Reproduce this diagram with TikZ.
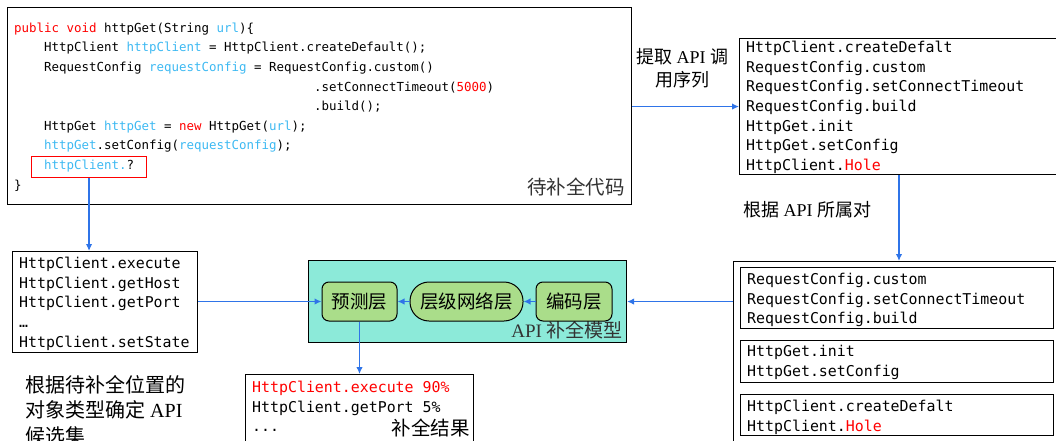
\documentclass[tikz,border=0pt]{standalone}
\usepackage{fontspec}
\setmainfont{Liberation Serif}
\setmonofont{DejaVu Sans Mono}
\newfontfamily\cjk{Noto Sans CJK SC}
\usetikzlibrary{arrows.meta}

\definecolor{kwred}{HTML}{FF0000}
\definecolor{varcyan}{HTML}{3DB9F2}
\definecolor{arrowblue}{HTML}{2F74E8}
\definecolor{modelteal}{HTML}{8CEAD9}
\definecolor{layergreen}{HTML}{AADD8A}
\definecolor{labelgray}{HTML}{333333}

\newlength\cw
\setlength\cw{7.5pt}
\newcommand\codeindent[1]{\hspace*{#1\cw}}
\newcommand\kw[1]{{\color{kwred}#1}}
\newcommand\vr[1]{{\color{varcyan}#1}}
\newcommand\zh[1]{{\cjk #1}}

\tikzset{
  box/.style={draw, line width=1.1pt, inner sep=0pt, anchor=north west},
  codetext/.style={anchor=north west, inner sep=0pt, align=left,
    font=\fontsize{12.45}{19.6}\selectfont\ttfamily},
  apitext/.style={anchor=north west, inner sep=0pt, align=left,
    font=\fontsize{14.9}{19.6}\selectfont\ttfamily},
  label/.style={inner sep=0pt, align=center,
    font=\fontsize{18}{23}\selectfont},
  layer/.style={draw, line width=1pt, fill=layergreen, inner sep=0pt,
    minimum height=39pt, font=\fontsize{18.5}{20}\selectfont\cjk},
  arr/.style={draw=arrowblue, line width=1.3pt,
    -{Latex[length=7pt,width=6.5pt]}},
}

\begin{document}
\begin{tikzpicture}[x=1pt, y=-1pt]
\useasboundingbox (0,0) rectangle (1056,441);

% ---- source code with the completion point ----
\node[box, minimum width=624pt, minimum height=197pt] (code) at (7,7) {};
\node[codetext] (codetxt) at (14,22.5) {%
\kw{public void} httpGet(String \vr{url})\{\\
\codeindent{4}HttpClient \vr{httpClient} = HttpClient.createDefault();\\
\codeindent{4}RequestConfig \vr{requestConfig} = RequestConfig.custom()\\
\codeindent{40}.setConnectTimeout(\kw{5000})\\
\codeindent{40}.build();\\
\codeindent{4}HttpGet \vr{httpGet} = \kw{new} HttpGet(\vr{url});\\
\codeindent{4}\vr{httpGet}.setConfig(\vr{requestConfig});\\
\codeindent{4}\vr{httpClient.}?\\
\}};
\node[draw=kwred, line width=1.1pt, inner sep=0pt, anchor=north west,
  minimum width=115pt, minimum height=21pt] (hole) at (31,156) {};
\node[anchor=east, inner sep=0pt, text=labelgray,
  font=\fontsize{19.5}{20}\selectfont\cjk] (codecap) at (625,187) {待补全代码};

% ---- extracted API call sequence ----
\node[box, minimum width=320pt, minimum height=136pt] (seq) at (739,38) {};
\node[apitext] (seqtxt) at (746,41) {%
HttpClient.createDefalt\\
RequestConfig.custom\\
RequestConfig.setConnectTimeout\\
RequestConfig.build\\
HttpGet.init\\
HttpGet.setConfig\\
HttpClient.\kw{Hole}};
\node[label] (extractlbl) at (682,68) {\zh{提取} API \zh{调}\\\zh{用序列}};
\node[label, anchor=west] (grouplbl) at (743,210) {\zh{根据} API \zh{所属对}};

% ---- API calls grouped by owning object ----
\node[box, minimum width=340pt, minimum height=200pt] (groups) at (733,261) {};
\node[box, minimum width=313pt, minimum height=61pt] (g1) at (740,267) {};
\node[apitext] (g1txt) at (747,273) {%
RequestConfig.custom\\
RequestConfig.setConnectTimeout\\
RequestConfig.build};
\node[box, minimum width=313pt, minimum height=42pt] (g2) at (740,340) {};
\node[apitext] (g2txt) at (747,345) {%
HttpGet.init\\
HttpGet.setConfig};
\node[box, minimum width=313pt, minimum height=41pt] (g3) at (740,394) {};
\node[apitext] (g3txt) at (747,400) {%
HttpClient.createDefalt\\
HttpClient.\kw{Hole}};

% ---- completion model ----
\node[box, fill=modelteal, minimum width=318pt, minimum height=82pt] (model) at (308,260) {};
\node[anchor=east, inner sep=0pt, text=labelgray, font=\fontsize{19}{20}\selectfont] (modelcap) at (623,330)
  {API \zh{补全模型}};
\node[layer, rounded corners=7pt, minimum width=75pt] (pred) at (359.5,301.5) {预测层};
\node[layer, rounded corners=19pt, minimum width=113pt] (hier) at (466.5,301.5) {层级网络层};
\node[layer, rounded corners=7pt, minimum width=76pt] (enc) at (574,301.5) {编码层};

% ---- candidate APIs for the hole ----
\node[box, minimum width=185pt, minimum height=101pt] (cand) at (12,251) {};
\node[apitext] (candtxt) at (19,257) {%
HttpClient.execute\\
HttpClient.getHost\\
HttpClient.getPort\\
…\\
HttpClient.setState};
\node[anchor=north west, inner sep=0pt, align=left,
  font=\fontsize{20}{25.5}\selectfont] (candlbl) at (25,375) {%
\zh{根据待补全位置的}\\
\zh{对象类型确定} API\\
\zh{候选集}};

% ---- completion result ----
\node[box, minimum width=228pt, minimum height=90pt] (result) at (245,374) {};
\node[apitext] (resulttxt) at (252,381) {%
\kw{HttpClient.execute 90\%}\\
HttpClient.getPort 5\%\\
...};
\node[anchor=east, inner sep=0pt, font=\fontsize{19.5}{20}\selectfont\cjk] (resultcap)
  at (470,428) {补全结果};

% ---- connectors ----
\draw[arr] (code.east |- seq) -- (seq.west);
\draw[arr] (seq.south -| 899,0) -- (groups.north -| 899,0);
\draw[arr] (groups.west |- model) -- (model.east);
\draw[arr] (enc) -- (hier);
\draw[arr] (hier) -- (pred);
\draw[arr] (hole.south) -- (hole.south |- cand.north);
\draw[arr] (cand.east |- pred) -- (pred.west);
\draw[arr] (pred.south) -- (pred.south |- result.north);
\end{tikzpicture}
\end{document}
